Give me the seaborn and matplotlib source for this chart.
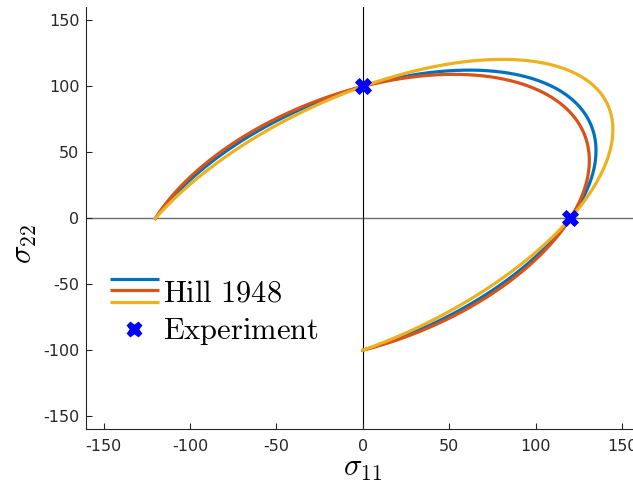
import numpy as np
import pandas as pd
import matplotlib
matplotlib.use("Agg")
import matplotlib.pyplot as plt
import seaborn as sns
from matplotlib.legend_handler import HandlerBase
from matplotlib.lines import Line2D

# Uniaxial yield stresses used to calibrate the Hill 1948 surfaces
yield_11 = 120.0
yield_22 = 100.0

# Coupling coefficient H of each Hill 1948 surface (F, G follow from the yield stresses)
curve_names = ["surface 1", "surface 2", "surface 3"]
hill_H = [3.80e-5, 3.34e-5, 4.65e-5]
curve_colors = ["#0072BD", "#D95319", "#EDB120"]

# Experimental yield points
exp_s11 = [0.0, 120.0]
exp_s22 = [100.0, 0.0]

tick_values = [-150, -100, -50, 0, 50, 100, 150]

plt.rcParams["axes.unicode_minus"] = False
plt.rcParams["mathtext.fontset"] = "cm"
plt.rcParams["font.family"] = ["DejaVu Sans"]


def hill_arc(H, n=800):
    """Plane-stress Hill 1948 surface, traced from (0,-sy22) round to (-sy11,0)."""
    G = 1.0 / yield_11 ** 2 - H
    F = 1.0 / yield_22 ** 2 - H
    t = np.linspace(-np.pi / 2, np.pi, n)
    c, s = np.cos(t), np.sin(t)
    r = 1.0 / np.sqrt((G + H) * c ** 2 + (F + H) * s ** 2 - 2 * H * c * s)
    return r * c, r * s


frames = []
for name, H in zip(curve_names, hill_H):
    x, y = hill_arc(H)
    frames.append(pd.DataFrame({"s11": x, "s22": y, "curve": name}))
curves = pd.concat(frames, ignore_index=True)
experiment = pd.DataFrame({"s11": exp_s11, "s22": exp_s22})

fig = plt.figure(figsize=(6.33, 4.83), dpi=100)
ax = fig.add_axes([0.1363, 0.1112, 0.874, 0.8737])

ax.axhline(0, color="#6e6e6e", lw=1.0, zorder=1)
ax.axvline(0, color="black", lw=0.8, zorder=1)

sns.lineplot(data=curves, x="s11", y="s22", hue="curve",
             palette=dict(zip(curve_names, curve_colors)),
             sort=False, estimator=None, lw=2.3, legend=False, ax=ax, zorder=2)
sns.scatterplot(data=experiment, x="s11", y="s22", marker="X", s=130,
                color="blue", edgecolor="blue", linewidth=0.7, ax=ax, zorder=3)

ax.set_xlim(-160, 160)
ax.set_ylim(-160, 160)
ax.set_xticks(tick_values)
ax.set_yticks(tick_values)
for side in ("top", "right"):
    ax.spines[side].set_visible(False)
for side in ("left", "bottom"):
    ax.spines[side].set_color("#262626")
    ax.spines[side].set_linewidth(0.8)
ax.tick_params(direction="in", length=4.5, width=0.8, colors="#262626",
               labelsize=11.5)
ax.tick_params(axis="x", pad=7)
ax.tick_params(axis="y", pad=5)

ax.set_xlabel(r"$\sigma_{11}$", fontsize=22, labelpad=0)
ax.set_ylabel(r"$\sigma_{22}$", fontsize=22)
ax.yaxis.set_label_coords(-0.111, 0.439)
ax.yaxis.label.set_va("center")


class StackedLines(HandlerBase):
    def create_artists(self, legend, orig_handle, xdescent, ydescent,
                       width, height, fontsize, trans):
        gap = 0.38 * fontsize
        yc = (height - ydescent) / 2.0
        arts = []
        for i, h in enumerate(orig_handle):
            y = yc + (1 - i) * gap
            ln = Line2D([-xdescent, width - xdescent], [y, y],
                        color=h.get_color(), lw=h.get_linewidth(),
                        solid_capstyle="butt", transform=trans)
            arts.append(ln)
        return arts


hill_handles = tuple(Line2D([], [], color=c, lw=2.3) for c in curve_colors)
exp_handle = Line2D([], [], ls="none", marker="X", ms=10.5, color="blue")
ax.legend([hill_handles, exp_handle],
          [r"$\mathrm{Hill\ 1948}$", r"$\mathrm{Experiment}$"],
          handler_map={tuple: StackedLines()},
          loc="center left", bbox_to_anchor=(0.1738, 0.3525),
          bbox_transform=fig.transFigure, frameon=False, fontsize=22,
          handlelength=1.6, handletextpad=0.15, borderpad=0, borderaxespad=0,
          labelspacing=0.3)

fig.savefig("out.png", dpi=100)
